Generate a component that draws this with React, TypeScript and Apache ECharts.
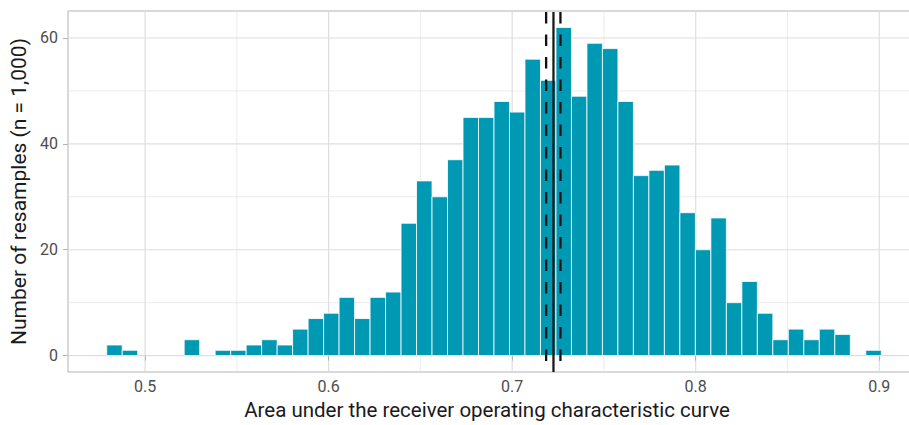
import React, { useEffect, useRef } from "react";
import * as echarts from "echarts";

// Histogram: 50 bins of AUC values from 1,000 bootstrap resamples
const binStart = 0.4791;
const binWidth = 0.00844;
const counts = [
  2, 1, 0, 0, 0, 3, 0, 1, 1, 2,
  3, 2, 5, 7, 8, 11, 7, 11, 12, 25,
  33, 30, 37, 45, 45, 48, 46, 56, 52, 62,
  49, 59, 58, 48, 34, 35, 36, 27, 20, 26,
  10, 14, 8, 3, 5, 3, 5, 4, 0, 1,
];

// Reference lines: point estimate (solid) and its interval (dashed)
const refLines = [0.7185, 0.7225, 0.7263];
const refDashed = [true, false, true];

// Axis breaks
const xMajor = [0.5, 0.6, 0.7, 0.8, 0.9];
const xMinor = [0.55, 0.65, 0.75, 0.85];
const yMajor = [0, 20, 40, 60];
const yMinor = [10, 30, 50];
const xRange = [0.458, 0.9222];
const yRange = [-3.1, 65.1];

const xTitle = "Area under the receiver operating characteristic curve";
const yTitle = "Number of resamples (n = 1,000)";

const FONT = "Roboto, 'Noto Sans', sans-serif";

export default function App() {
  const ref = useRef<HTMLDivElement>(null);

  useEffect(() => {
    if (!ref.current) return;
    const chart = echarts.init(ref.current, null, { renderer: "svg" });

    const bins = counts
      .map((c, i) => [binStart + i * binWidth, binStart + (i + 1) * binWidth, c])
      .filter((d) => d[2] > 0);

    const vGrid = (vals: number[], w: number) => ({
      type: "custom",
      silent: true,
      z: 0,
      data: vals.map((v) => [v, 0]),
      encode: { x: 0, y: 1 },
      renderItem: (params: any, api: any) => {
        const cs = params.coordSys;
        const p = api.coord([api.value(0), 0]);
        return {
          type: "line",
          shape: { x1: p[0], y1: cs.y, x2: p[0], y2: cs.y + cs.height },
          style: { stroke: "#dedede", lineWidth: w },
        };
      },
    });
    const hGrid = (vals: number[], w: number) => ({
      type: "custom",
      silent: true,
      z: 0,
      data: vals.map((v) => [0.7, v]),
      encode: { x: 0, y: 1 },
      renderItem: (params: any, api: any) => {
        const cs = params.coordSys;
        const p = api.coord([0.7, api.value(1)]);
        return {
          type: "line",
          shape: { x1: cs.x, y1: p[1], x2: cs.x + cs.width, y2: p[1] },
          style: { stroke: "#dedede", lineWidth: w },
        };
      },
    });

    const option: any = {
      animation: false,
      backgroundColor: "#ffffff",
      grid: {
        left: 68,
        top: 11,
        right: 0,
        bottom: 50,
        show: true,
        borderColor: "#b3b3b3",
        borderWidth: 1,
        backgroundColor: "transparent",
      },
      xAxis: {
        type: "value",
        min: xRange[0],
        max: xRange[1],
        axisLine: { show: false },
        splitLine: { show: false },
        axisTick: {
          show: true,
          length: 5,
          customValues: xMajor,
          lineStyle: { color: "#b3b3b3", width: 1 },
        },
        axisLabel: {
          customValues: xMajor,
          margin: 6,
          color: "#4d4d4d",
          fontSize: 16,
          fontFamily: FONT,
          formatter: (v: number) => String(Math.round(v * 10) / 10),
        },
        name: xTitle,
        nameLocation: "middle",
        nameGap: 27,
        nameTextStyle: {
          color: "#1a1a1a",
          fontSize: 20.5,
          fontFamily: FONT,
          padding: [0, 14, 0, 0],
        },
      },
      yAxis: {
        type: "value",
        min: yRange[0],
        max: yRange[1],
        axisLine: { show: false },
        splitLine: { show: false },
        axisTick: {
          show: true,
          length: 5,
          customValues: yMajor,
          lineStyle: { color: "#b3b3b3", width: 1 },
        },
        axisLabel: {
          customValues: yMajor,
          margin: 10,
          color: "#4d4d4d",
          fontSize: 16,
          fontFamily: FONT,
        },
        name: yTitle,
        nameLocation: "middle",
        nameGap: 38,
        nameTextStyle: { color: "#1a1a1a", fontSize: 21, fontFamily: FONT },
      },
      series: [
        vGrid(xMinor, 0.6),
        hGrid(yMinor, 0.6),
        vGrid(xMajor, 1.2),
        hGrid(yMajor, 1.2),
        {
          type: "custom",
          z: 2,
          data: bins,
          encode: { x: [0, 1], y: 2 },
          renderItem: (params: any, api: any) => {
            const p0 = api.coord([api.value(0), 0]);
            const p1 = api.coord([api.value(1), api.value(2)]);
            return {
              type: "rect",
              shape: {
                x: p0[0],
                y: p1[1],
                width: p1[0] - p0[0],
                height: p0[1] - p1[1],
              },
              style: { fill: "#0099B4", stroke: "#ffffff", lineWidth: 0.8 },
            };
          },
        },
        {
          type: "custom",
          z: 3,
          silent: true,
          data: refLines.map((v, i) => [v, 0, refDashed[i] ? 1 : 0]),
          encode: { x: 0, y: 1 },
          renderItem: (params: any, api: any) => {
            const cs = params.coordSys;
            const p = api.coord([api.value(0), 0]);
            const dashed = api.value(2) === 1;
            return {
              type: "line",
              shape: { x1: p[0], y1: cs.y + 1, x2: p[0], y2: cs.y + cs.height },
              style: {
                stroke: dashed ? "#111111" : "#1a1a1a",
                lineWidth: 2.3,
                lineDash: dashed ? [11.5, 11] : null,
              },
            };
          },
        },
      ],
    };

    chart.setOption(option);
    return () => chart.dispose();
  }, []);

  return (
    <div
      style={{
        position: "fixed",
        left: 0,
        top: 0,
        width: 909,
        height: 425,
        overflow: "hidden",
      }}
    >
      <div ref={ref} style={{ width: 920, height: 425 }} />
    </div>
  );
}
